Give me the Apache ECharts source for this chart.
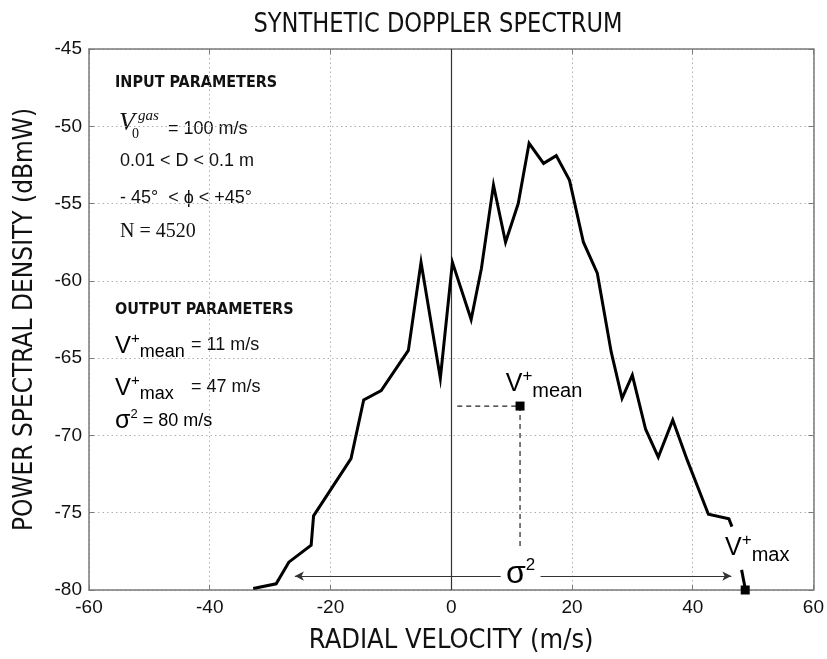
<!DOCTYPE html>
<html><head><meta charset="utf-8">
<script src="https://cdn.jsdelivr.net/npm/echarts@6/dist/echarts.min.js"></script>
<style>html,body{margin:0;padding:0;background:#fff}#c{width:827px;height:659px}</style>
</head><body><div id="c"></div><script>
// ---- data ----
const velocity = [-32.8, -29.0, -26.9, -23.2, -22.8, -16.6, -14.5, -11.6, -7.1, -5.0, -1.8, 0.2, 3.3, 5.0, 7.0, 9.0, 11.1, 12.9, 15.3, 17.4, 19.6, 21.9, 24.2, 26.5, 28.3, 30.0, 32.2, 34.3, 36.7, 39.1, 42.6, 46.0, 46.5];
const psd      = [-79.9, -79.6, -78.2, -77.1, -75.2, -71.5, -67.7, -67.1, -64.5, -58.8, -66.3, -58.8, -62.5, -59.2, -53.8, -57.5, -55.0, -51.1, -52.4, -51.9, -53.5, -57.5, -59.5, -64.6, -67.6, -66.1, -69.6, -71.4, -69.0, -71.6, -75.1, -75.4, -75.9];
const tailVelocity = [48.1, 48.7];
const tailPsd = [-78.7, -79.9];
const meanPoint = [11.4, -68.1];
const meanGuideStartV = 1.0;
const meanGuideBottomP = -77.3;
const maxPoint = [48.7, -80];
const sigmaP = -79.1;
const sigmaLeftV = -25.9, sigmaRightV = 46.4, sigmaGapLeftV = 8.2, sigmaGapRightV = 14.8, sigmaLabelV = 11.5;
const xMin = -60, xMax = 60, xStep = 20;
const yMin = -80, yMax = -45, yStep = 5;
const titleText = 'SYNTHETIC DOPPLER SPECTRUM';
const xName = 'RADIAL VELOCITY (m/s)';
const yName = 'POWER SPECTRAL DENSITY (dBmW)';

const NARROW = '"Liberation Sans Narrow", "DejaVu Sans Condensed", "Liberation Sans", sans-serif';
const SANS = '"Liberation Sans", "Open Sans", sans-serif';
const SERIF = '"Liberation Serif", "DejaVu Serif", serif';

const spectrum = velocity.map((v, i) => [v, psd[i]]);
const tail = tailVelocity.map((v, i) => [v, tailPsd[i]]);

const chart = echarts.init(document.getElementById('c'), null, {renderer: 'canvas'});

const frame = {color: '#7a7a7a', width: 1.5};
const grid = {left: 89, top: 49, width: 726, height: 544};

const supRich = {
  V: {fontFamily: SANS, fontSize: 25, color: '#000'},
  sup: {fontFamily: SANS, fontSize: 17, color: '#000', padding: [0, 0, 16, 0]},
  sub: {fontFamily: SANS, fontSize: 20, color: '#000', padding: [14, 0, 0, 0]}
};
const leftRich = {
  V: {fontFamily: SANS, fontSize: 24, color: '#111'},
  sup: {fontFamily: SANS, fontSize: 15, color: '#111', padding: [0, 0, 14, 0]},
  sub: {fontFamily: SANS, fontSize: 18, color: '#111', padding: [12, 0, 0, 0]},
  s: {fontFamily: SANS, fontSize: 25, color: '#111'},
  s2: {fontFamily: SANS, fontSize: 13, color: '#111', padding: [0, 0, 14, 0]},
  t: {fontFamily: SANS, fontSize: 18, color: '#111'}
};

function txt(x, y, text, font, extra, scaleX) {
  return {type: 'text', x: x, y: y, silent: true, scaleX: scaleX || 1,
    style: Object.assign({text: text, font: font, fill: '#111', verticalAlign: 'middle', align: 'left'}, extra || {})};
}

const option = {
  animation: false,
  backgroundColor: '#fff',
  grid: grid,
  xAxis: [{
    type: 'value', min: xMin, max: xMax, interval: xStep, position: 'bottom',
    axisLine: {show: true, onZero: false, lineStyle: frame},
    axisTick: {show: true, inside: true, length: 5, lineStyle: {color: '#7a7a7a', width: 1}},
    axisLabel: {color: '#111', fontSize: 19, fontFamily: SANS, margin: 8},
    splitLine: {show: true, lineStyle: {type: [1.5, 3], color: '#b0b0b0', width: 1}},
    name: xName, nameLocation: 'middle', nameGap: 37,
    nameTextStyle: {fontFamily: NARROW, fontSize: 27, color: '#111'}
  }, {
    type: 'value', min: xMin, max: xMax, interval: xStep, position: 'top',
    axisLine: {show: true, onZero: false, lineStyle: frame},
    axisTick: {show: true, inside: true, length: 5, lineStyle: {color: '#7a7a7a', width: 1}},
    axisLabel: {show: false}, splitLine: {show: false}
  }],
  yAxis: [{
    type: 'value', min: yMin, max: yMax, interval: yStep, position: 'left',
    axisLine: {show: true, onZero: false, lineStyle: frame},
    axisTick: {show: true, inside: true, length: 5, lineStyle: {color: '#7a7a7a', width: 1}},
    axisLabel: {color: '#111', fontSize: 19, fontFamily: SANS, margin: 7},
    splitLine: {show: true, lineStyle: {type: [1.5, 3], color: '#b0b0b0', width: 1}},
    name: yName, nameLocation: 'middle', nameGap: 51, nameRotate: 90,
    nameTextStyle: {fontFamily: NARROW, fontSize: 26, color: '#111'}
  }, {
    type: 'value', min: yMin, max: yMax, interval: yStep, position: 'right',
    axisLine: {show: true, onZero: false, lineStyle: frame},
    axisTick: {show: true, inside: true, length: 5, lineStyle: {color: '#7a7a7a', width: 1}},
    axisLabel: {show: false}, splitLine: {show: false}
  }],
  series: [
    {
      type: 'line', data: spectrum, showSymbol: false, symbol: 'none', silent: true,
      lineStyle: {color: '#000', width: 3, join: 'miter'}, z: 5,
      markLine: {
        silent: true, symbol: ['none', 'none'], label: {show: false},
        lineStyle: {color: '#333', width: 1.2, type: 'solid'},
        data: [{xAxis: 0}]
      }
    },
    {
      type: 'line', data: tail, showSymbol: false, symbol: 'none', silent: true,
      lineStyle: {color: '#000', width: 3}, z: 5
    },
    {
      type: 'line', data: [[meanGuideStartV, meanPoint[1]], meanPoint], symbol: 'none', silent: true,
      lineStyle: {color: '#222', width: 1.2, type: [5, 4]}, z: 4
    },
    {
      type: 'line', data: [meanPoint, [meanPoint[0], meanGuideBottomP]], symbol: 'none', silent: true,
      lineStyle: {color: '#222', width: 1.2, type: [5, 4]}, z: 4
    },
    {
      type: 'scatter', data: [meanPoint], symbol: 'rect', symbolSize: 9, silent: true,
      itemStyle: {color: '#000', opacity: 1}, z: 6,
      label: {show: true, position: 'inside', offset: [24, -22], color: '#000',
        formatter: '{V|V}{sup|+}{sub|mean}', rich: supRich}
    },
    {
      type: 'scatter', data: [maxPoint], symbol: 'rect', symbolSize: 9, silent: true, clip: false,
      itemStyle: {color: '#000', opacity: 1}, z: 6,
      label: {show: true, position: 'inside', offset: [12, -42], color: '#000',
        formatter: '{V|V}{sup|+}{sub|max}', rich: supRich}
    },
    {
      type: 'line', data: [], silent: true,
      markLine: {
        silent: true, symbol: ['none', 'arrow'], symbolSize: [7, 9], label: {show: false},
        lineStyle: {color: '#333', width: 1.2, type: 'solid'},
        data: [
          [{coord: [sigmaGapLeftV, sigmaP]}, {coord: [sigmaLeftV, sigmaP]}],
          [{coord: [sigmaGapRightV, sigmaP]}, {coord: [sigmaRightV, sigmaP]}]
        ]
      }
    },
    {
      type: 'scatter', data: [[sigmaLabelV, sigmaP]], symbol: 'circle', symbolSize: 1, silent: true,
      itemStyle: {color: 'rgba(255,255,255,0)', opacity: 1}, z: 6,
      label: {show: true, position: 'inside', offset: [0, -2], color: '#000', formatter: '{s|σ}{s2|2}',
        rich: {s: {fontFamily: SANS, fontSize: 32, color: '#000'}, s2: {fontFamily: SANS, fontSize: 17, color: '#000', padding: [0, 0, 18, 0]}}}
    }
  ],
  graphic: [
    txt(438, 25, titleText, '27px ' + NARROW, {align: 'center'}, 0.93),
    txt(115, 83, 'INPUT PARAMETERS', 'bold 16px ' + NARROW),
    txt(119, 123, 'V', 'italic 26px ' + SERIF),
    txt(138, 116, 'gas', 'italic 15px ' + SERIF),
    txt(132, 134, '0', '14px ' + SERIF),
    txt(168, 129, '= 100 m/s', '18px ' + SANS),
    txt(120, 161, '0.01 < D < 0.1 m', '18px ' + SANS),
    txt(120, 198, '- 45°  < ϕ < +45°', '18px ' + SANS),
    txt(120, 232, 'N = 4520', '20px ' + SERIF),
    txt(115, 310, 'OUTPUT PARAMETERS', 'bold 16px ' + NARROW),
    {type: 'text', x: 115, y: 346, silent: true, style: {text: '{V|V}{sup|+}{sub|mean}', rich: leftRich, verticalAlign: 'middle'}},
    txt(191, 345, '= 11 m/s', '18px ' + SANS),
    {type: 'text', x: 115, y: 388, silent: true, style: {text: '{V|V}{sup|+}{sub|max}', rich: leftRich, verticalAlign: 'middle'}},
    txt(191, 387, '= 47 m/s', '18px ' + SANS),
    {type: 'text', x: 115, y: 421, silent: true, style: {text: '{s|σ}{s2|2}{t| = 80 m/s}', rich: leftRich, verticalAlign: 'middle'}}
  ]
};
chart.setOption(option);
</script></body></html>
